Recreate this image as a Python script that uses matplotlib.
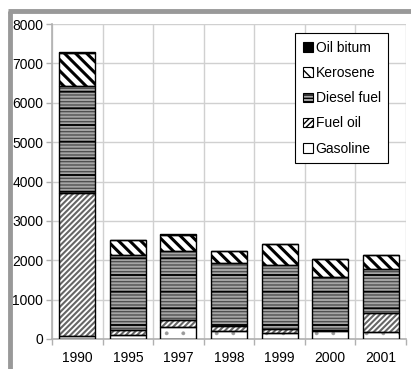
import numpy as np
import matplotlib
matplotlib.use('Agg')
import matplotlib.pyplot as plt
import matplotlib.patches as mpatches
from matplotlib.lines import Line2D

plt.rcParams['font.family'] = ['Liberation Sans', 'DejaVu Sans']

years = ['1990', '1995', '1997', '1998', '1999', '2000', '2001']
gasoline = [80, 100, 310, 200, 165, 210, 185]
fuel_oil = [3620, 130, 160, 135, 100, 20, 485]
diesel_fuel = [2720, 1900, 1770, 1600, 1610, 1350, 1100]
kerosene = [850, 380, 400, 290, 530, 440, 360]
oil_bitum = [20, 15, 15, 10, 10, 10, 10]

series = [
    ('Gasoline', gasoline),
    ('Fuel oil', fuel_oil),
    ('Diesel fuel', diesel_fuel),
    ('Kerosene', kerosene),
    ('Oil bitum', oil_bitum),
]
# face, hatch colour, hatch, hatch linewidth
styles = {
    'Gasoline': ('white', '#9a9a9a', '.', 0.3),
    'Fuel oil': ('white', '#666666', '//////', 1.5),
    'Diesel fuel': ('#a6a6a6', '#505050', '-----', 1.0),
    'Kerosene': ('white', 'black', '\\\\\\', 2.2),
    'Oil bitum': ('black', 'black', None, 1.0),
}


def hatched_bar(ax, x, h, bottom, face, hc, hatch, hlw, width):
    with plt.rc_context({'hatch.linewidth': hlw}):
        bars = ax.bar(x, h, width, bottom=bottom, facecolor=face,
                      edgecolor=hc, hatch=hatch, linewidth=0, zorder=2)
    for b in bars:
        if hasattr(b, 'set_hatch_linewidth'):
            b.set_hatch_linewidth(hlw)
    return bars


fig = plt.figure(figsize=(4.11, 3.69), dpi=100)
ax = fig.add_axes([52 / 411, 1 - 339 / 369, 354 / 411, 315 / 369])

x = np.arange(len(years))
width = 0.71
bottom = np.zeros(len(years))
for name, vals in series:
    vals = np.array(vals, dtype=float)
    face, hc, hatch, hlw = styles[name]
    hatched_bar(ax, x, vals, bottom, face, hc, hatch, hlw, width)
    if name == 'Diesel fuel':
        # black lines on top of the grey stripes
        hatched_bar(ax, x, vals, bottom, 'none', 'black', '-', 1.3, width)
    ax.bar(x, vals, width, bottom=bottom, facecolor='none',
           edgecolor='black', linewidth=1.0, zorder=3)
    bottom += vals

ax.set_xlim(-0.5, len(years) - 0.5)
ax.set_ylim(0, 8000)
ax.set_yticks(np.arange(0, 8001, 1000))
ax.set_xticks(x)
ax.set_xticklabels(years)
ax.set_xticks(np.arange(-0.5, len(years), 1), minor=True)
ax.tick_params(axis='x', which='major', length=0, pad=9, labelsize=10)
ax.tick_params(axis='x', which='minor', length=4, color='#b0b0b0', width=1)
ax.tick_params(axis='y', length=4.3, color='#b0b0b0', width=1, pad=2, labelsize=10)
ax.grid(True, axis='y', color='#d0d0d0', linewidth=1, zorder=0)
ax.grid(True, axis='x', which='minor', color='#d0d0d0', linewidth=1, zorder=0)
ax.set_axisbelow(True)
for s in ['top', 'right']:
    ax.spines[s].set_visible(False)
for s in ['left', 'bottom']:
    ax.spines[s].set_color('#b0b0b0')
    ax.spines[s].set_linewidth(1.2)

handles = []
for name, vals in series[::-1]:
    face, hc, hatch, hlw = styles[name]
    if name == 'Gasoline':
        hatch = None
    p = mpatches.Patch(facecolor=face, edgecolor='black', hatch=hatch, linewidth=0.8)
    handles.append(p)
leg = ax.legend(handles, [n for n, v in series[::-1]], loc='upper right',
                bbox_to_anchor=(0.95, 0.97), frameon=True, fancybox=False,
                edgecolor='black', fontsize=10, handlelength=0.7,
                handleheight=0.7, handletextpad=0.2, labelspacing=0.8,
                borderpad=0.55, borderaxespad=0)
leg.get_frame().set_linewidth(0.8)
leg.get_frame().set_alpha(1)

# grey chart-area frame
fig.add_artist(Line2D([9.5 / 411, 9.5 / 411], [0, 1 - 11 / 369], transform=fig.transFigure,
                      color='#999999', linewidth=3.5, solid_capstyle='butt'))
fig.add_artist(Line2D([8 / 411, 1], [1 - 11 / 369, 1 - 11 / 369], transform=fig.transFigure,
                      color='#999999', linewidth=3.5, solid_capstyle='butt'))

fig.savefig('out.png', dpi=100)
